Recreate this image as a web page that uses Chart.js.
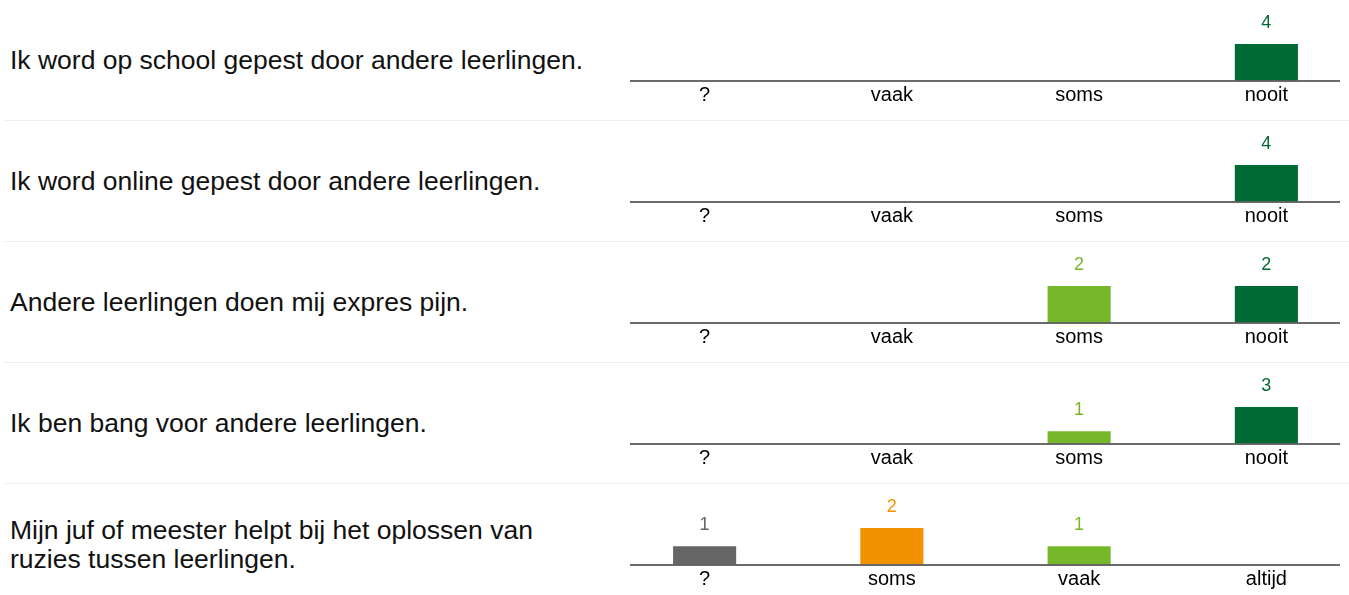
<!DOCTYPE html>
<html lang="nl">
<head>
  <meta charset="UTF-8">
  <title>Pesten</title>
  <script src="https://cdn.jsdelivr.net/npm/chart.js"></script>
  <style>
    body {
      margin: 0;
      width: 1349px;
      height: 595px;
      overflow: hidden;
      background: #fff;
      font-family: Arial, "Liberation Sans", sans-serif;
      position: relative;
    }
    .question {
      position: absolute;
      left: 10px;
      width: 580px;
      height: 121px;
      display: flex;
      align-items: center;
      font-size: 26.5px;
      line-height: 29px;
      color: #111;
    }
    .sep {
      position: absolute;
      left: 4px;
      right: 0;
      height: 1px;
      background: #efefef;
    }
    .chart-box {
      position: absolute;
      left: 611px;
      width: 749px;
      height: 120px;
    }
  </style>
</head>
<body>
  <div id="wrap"></div>

  <script>
    const questions = [
      'Ik word op school gepest door andere leerlingen.',
      'Ik word online gepest door andere leerlingen.',
      'Andere leerlingen doen mij expres pijn.',
      'Ik ben bang voor andere leerlingen.',
      'Mijn juf of meester helpt bij het oplossen van<br>ruzies tussen leerlingen.'
    ];
    const freqLabels = ['?', 'vaak', 'soms', 'nooit'];
    const helpLabels = ['?', 'soms', 'vaak', 'altijd'];
    const rowLabels = [freqLabels, freqLabels, freqLabels, freqLabels, helpLabels];

    const schoolPesten = [0, 0, 0, 4];
    const onlinePesten = [0, 0, 0, 4];
    const expresPijn = [0, 0, 2, 2];
    const bang = [0, 0, 1, 3];
    const hulpRuzies = [1, 2, 1, 0];
    const rowValues = [schoolPesten, onlinePesten, expresPijn, bang, hulpRuzies];

    const barColors = ['#666666', '#f39200', '#76b82a', '#006a35'];

    const wrap = document.getElementById('wrap');

    // lijn onder de balken, iets korter dan het grafiekgebied
    const baseline = {
      id: 'baseline',
      afterDraw(chart) {
        const ctx = chart.ctx;
        const y = chart.chartArea.bottom + 0.5;
        ctx.save();
        ctx.strokeStyle = '#3a3a3a';
        ctx.lineWidth = 1.5;
        ctx.beginPath();
        ctx.moveTo(19, y);
        ctx.lineTo(729, y);
        ctx.stroke();
        ctx.restore();
      }
    };

    // aantallen boven de balken
    const valueLabels = {
      id: 'valueLabels',
      afterDatasetsDraw(chart) {
        const ctx = chart.ctx;
        const ds = chart.data.datasets[0];
        ctx.save();
        ctx.font = '18px Arial, "Liberation Sans", sans-serif';
        ctx.textAlign = 'center';
        ctx.textBaseline = 'middle';
        chart.getDatasetMeta(0).data.forEach((bar, i) => {
          const v = ds.data[i];
          if (!v) return;
          ctx.fillStyle = barColors[i];
          ctx.fillText(String(v), bar.x, bar.y - 21);
        });
        ctx.restore();
      }
    };

    rowValues.forEach((values, r) => {
      const top = r * 121;

      const q = document.createElement('div');
      q.className = 'question';
      q.style.top = top + 'px';
      q.innerHTML = questions[r];
      wrap.appendChild(q);

      if (r > 0) {
        const sep = document.createElement('div');
        sep.className = 'sep';
        sep.style.top = (top - 1) + 'px';
        wrap.appendChild(sep);
      }

      const box = document.createElement('div');
      box.className = 'chart-box';
      box.style.top = top + 'px';
      const canvas = document.createElement('canvas');
      box.appendChild(canvas);
      wrap.appendChild(box);

      new Chart(canvas, {
        type: 'bar',
        data: {
          labels: rowLabels[r],
          datasets: [{
            data: values,
            backgroundColor: barColors,
            borderWidth: 0,
            categoryPercentage: 1,
            barPercentage: 0.337
          }]
        },
        options: {
          responsive: true,
          maintainAspectRatio: false,
          animation: false,
          layout: { padding: { top: 44, left: 0, right: 0, bottom: 0 } },
          plugins: { legend: { display: false }, tooltip: { enabled: false } },
          scales: {
            x: {
              grid: { display: false },
              border: { display: false },
              ticks: {
                color: '#000',
                padding: -5,
                font: { family: 'Arial, "Liberation Sans", sans-serif', size: 20 }
              },
              afterFit: s => { s.height = 39.5; }
            },
            y: {
              display: false,
              min: 0,
              max: Math.max(...values)
            }
          }
        },
        plugins: [baseline, valueLabels]
      });
    });
  </script>
</body>
</html>
